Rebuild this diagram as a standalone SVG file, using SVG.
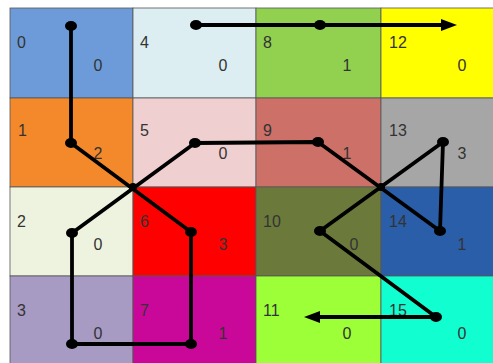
<svg xmlns="http://www.w3.org/2000/svg" width="493" height="363" viewBox="0 0 493 363">
<defs>
<style>
.cell{stroke:#555;stroke-width:0.8}
.t{font-family:"Liberation Sans",Arial,sans-serif;font-size:16px;fill:#333}
.m{text-anchor:middle}
.ln{fill:none;stroke:#000;stroke-width:3.8;stroke-linejoin:round}
.dot{fill:#000}
</style>
</defs>
<rect width="493" height="363" fill="#fff"/>
<g id="cells">
<g id="c0"><rect class="cell" x="10" y="8" width="123" height="90" fill="#6d9bd9"/><text class="t" x="17" y="48">0</text><text class="t m" x="98" y="71">0</text></g>
<g id="c1"><rect class="cell" x="10" y="98" width="123" height="89" fill="#f4892b"/><text class="t" x="18" y="136">1</text><text class="t m" x="98" y="159">2</text></g>
<g id="c2"><rect class="cell" x="10" y="187" width="123" height="89" fill="#eef3e0"/><text class="t" x="17" y="227">2</text><text class="t m" x="98" y="250">0</text></g>
<g id="c3"><rect class="cell" x="10" y="276" width="123" height="90" fill="#a79ac3"/><text class="t" x="17" y="316">3</text><text class="t m" x="98" y="339">0</text></g>
<g id="c4"><rect class="cell" x="133" y="8" width="123" height="90" fill="#dceef2"/><text class="t" x="140" y="48">4</text><text class="t m" x="223" y="71">0</text></g>
<g id="c5"><rect class="cell" x="133" y="98" width="123" height="89" fill="#efcfcf"/><text class="t" x="140" y="136">5</text><text class="t m" x="223" y="159">0</text></g>
<g id="c6"><rect class="cell" x="133" y="187" width="123" height="89" fill="#ff0000"/><text class="t" x="140" y="227">6</text><text class="t m" x="223" y="250">3</text></g>
<g id="c7"><rect class="cell" x="133" y="276" width="123" height="90" fill="#c9089a"/><text class="t" x="140" y="316">7</text><text class="t m" x="223" y="339">1</text></g>
<g id="c8"><rect class="cell" x="256" y="8" width="125" height="90" fill="#92d050"/><text class="t" x="263" y="48">8</text><text class="t m" x="347" y="71">1</text></g>
<g id="c9"><rect class="cell" x="256" y="98" width="125" height="89" fill="#cc7068"/><text class="t" x="263" y="136">9</text><text class="t m" x="347" y="159">1</text></g>
<g id="c10"><rect class="cell" x="256" y="187" width="125" height="89" fill="#6b7a3b"/><text class="t" x="263" y="227">10</text><text class="t m" x="354" y="250">0</text></g>
<g id="c11"><rect class="cell" x="256" y="276" width="125" height="90" fill="#9cff38"/><text class="t" x="263" y="316">11</text><text class="t m" x="347" y="339">0</text></g>
<g id="c12"><rect class="cell" x="381" y="8" width="115" height="90" fill="#ffff00"/><text class="t" x="389" y="48">12</text><text class="t m" x="462" y="71">0</text></g>
<g id="c13"><rect class="cell" x="381" y="98" width="115" height="89" fill="#a6a6a6"/><text class="t" x="389" y="136">13</text><text class="t m" x="462" y="159">3</text></g>
<g id="c14"><rect class="cell" x="381" y="187" width="115" height="89" fill="#2a5ea8"/><text class="t" x="389" y="227">14</text><text class="t m" x="462" y="250">1</text></g>
<g id="c15"><rect class="cell" x="381" y="276" width="115" height="90" fill="#11ffd0"/><text class="t" x="389" y="316">15</text><text class="t m" x="462" y="339">0</text></g>
</g>
<g id="connectors">
<polyline class="ln" points="71,26 71,143 191,232 191,344 72,344 72,233 195,143 318,142 440,231 443,142 320,231 436,317 315,317"/>
<path d="M304,317 L320,311 L320,323 Z" fill="#000"/>
<polyline class="ln" points="196,25 320,25 445,25"/>
<path d="M457,25 L441,19 L441,31 Z" fill="#000"/>
<g class="dot">
<ellipse cx="71" cy="26" rx="6" ry="5"/>
<ellipse cx="71" cy="143" rx="6" ry="5"/>
<ellipse cx="191" cy="232" rx="6" ry="5"/>
<ellipse cx="191" cy="344" rx="6" ry="5"/>
<ellipse cx="72" cy="344" rx="6" ry="5"/>
<ellipse cx="72" cy="233" rx="6" ry="5"/>
<ellipse cx="195" cy="143" rx="6" ry="5"/>
<ellipse cx="318" cy="142" rx="6" ry="5"/>
<ellipse cx="440" cy="231" rx="6" ry="5"/>
<ellipse cx="443" cy="142" rx="6" ry="5"/>
<ellipse cx="320" cy="231" rx="6" ry="5"/>
<ellipse cx="436" cy="317" rx="6" ry="5"/>
<ellipse cx="196" cy="25" rx="6" ry="5"/>
<ellipse cx="320" cy="25" rx="6" ry="5"/>
<ellipse cx="133" cy="187" rx="4" ry="4"/>
<ellipse cx="381" cy="187" rx="4" ry="4"/>
</g>
</g>
</svg>
